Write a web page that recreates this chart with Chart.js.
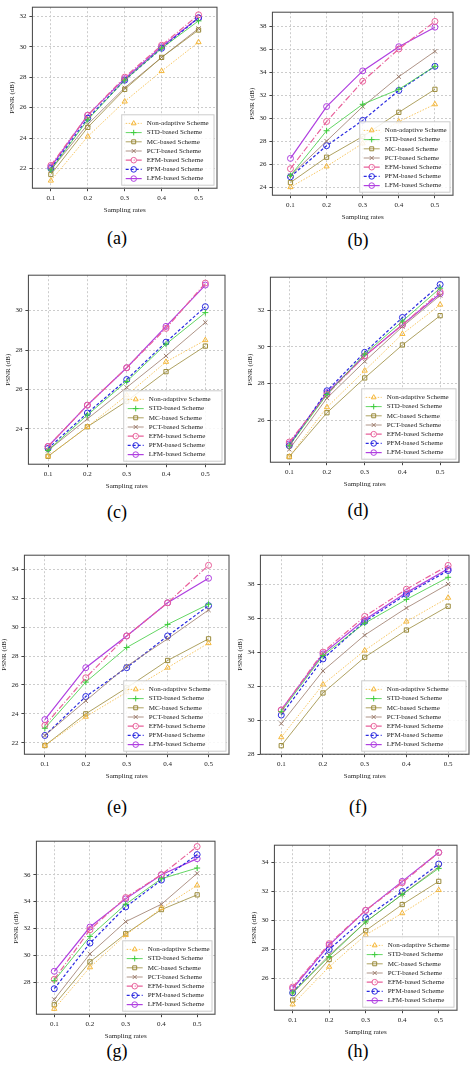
<!DOCTYPE html>
<html><head><meta charset="utf-8">
<script src="https://cdn.jsdelivr.net/npm/chart.js@4"></script>
<style>
body{margin:0;background:#fff;width:474px;height:1076px;position:relative;overflow:hidden}
.box{position:absolute}
.lab{position:absolute;font:18px "Liberation Serif",serif;transform:translateX(-50%)}
</style></head><body>
<script>
// Sampling rates on x axis
const rates = ['0.1', '0.2', '0.3', '0.4', '0.5'];
const schemes = ['Non-adaptive Scheme', 'STD-based Scheme', 'MC-based Scheme', 'PCT-based Scheme', 'EFM-based Scheme', 'PFM-based Scheme', 'LFM-based Scheme'];

// PSNR values per panel, one row per scheme (same order as schemes)
const psnrA = [[21.2,24.1,26.4,28.4,30.3],[21.9,25.2,27.8,29.9,31.7],[21.6,24.7,27.2,29.3,31.1],[21.9,24.9,27.3,29.3,31.2],[22.2,25.5,28.0,30.1,32.1],[22.0,25.3,27.8,29.9,31.9],[22.1,25.5,27.9,30.0,31.9]];
const psnrB = [[24.0,25.8,27.8,29.7,31.2],[25.0,28.9,31.2,32.5,34.5],[24.4,26.6,28.4,30.5,32.5],[25.0,28.0,31.0,33.6,35.8],[25.6,29.7,33.2,36.0,38.4],[24.9,27.6,29.8,32.4,34.5],[26.5,31.0,34.1,36.2,37.9]];
const psnrC = [[22.6,24.1,25.7,27.4,28.5],[22.9,24.7,26.4,28.3,29.9],[22.6,24.1,25.4,26.9,28.2],[22.9,24.5,26.1,27.7,29.4],[23.1,25.2,27.1,29.1,31.4],[23.0,24.8,26.5,28.4,30.2],[23.1,25.2,27.1,29.2,31.3]];
const psnrD = [[24.0,26.7,28.7,30.7,32.3],[24.6,27.4,29.6,31.4,33.2],[24.0,26.4,28.3,30.1,31.7],[24.4,27.2,29.2,31.1,32.8],[24.8,27.4,29.5,31.2,33.0],[24.6,27.6,29.7,31.6,33.4],[24.7,27.5,29.5,31.2,32.9]];
const psnrE = [[21.8,23.8,25.5,27.2,28.9],[23.0,26.2,28.6,30.2,31.6],[21.8,24.0,25.8,27.7,29.2],[22.5,24.9,27.3,29.2,31.2],[23.2,26.5,29.4,31.7,34.3],[22.5,25.2,27.2,29.4,31.5],[23.6,27.2,29.4,31.7,33.4]];
const psnrF = [[29.0,32.1,34.1,35.8,37.2],[30.5,33.8,35.7,37.1,38.4],[28.5,31.6,33.7,35.3,36.7],[29.8,32.9,35.0,36.6,38.0],[30.6,34.0,36.1,37.7,39.1],[30.3,33.6,35.8,37.4,38.8],[30.6,33.9,35.9,37.5,38.9]];
const psnrG = [[26.0,29.1,31.5,33.5,35.2],[28.1,31.4,33.8,35.7,36.5],[26.3,29.5,31.6,33.4,34.5],[26.7,30.1,32.5,33.8,36.1],[28.2,31.9,34.3,36.0,38.1],[27.5,30.9,33.6,35.6,37.5],[28.8,32.1,34.2,36.0,37.2]];
const psnrH = [[24.2,26.8,29.0,30.5,32.1],[25.0,27.5,29.9,31.8,33.6],[24.5,27.3,29.3,31.1,32.7],[25.0,27.6,29.9,31.8,33.7],[25.4,28.4,30.7,32.6,34.7],[25.0,28.0,30.2,32.0,33.9],[25.3,28.3,30.7,32.7,34.7]];

const styles = [
  {c:'#f5b73a', p:'triangle', d:[1.5,1.5]},
  {c:'#3ccc3c', p:'cross', d:[]},
  {c:'#9a8a3a', p:'rect', d:[]},
  {c:'#9a7a6a', p:'crossRot', d:[]},
  {c:'#e8609a', p:'circle', d:[6,2,1,2]},
  {c:'#2a2ae0', p:'circle', d:[3,2]},
  {c:'#b040e0', p:'circle', d:[]}
];

const panels = [
  {id:'a', data:psnrA, min:20.7, max:32.6, box:[8,0,214,214]},
  {id:'b', data:psnrB, min:23.3, max:39.2, box:[248,5,210,216]},
  {id:'c', data:psnrC, min:22.2, max:31.8, box:[4,268,226,222]},
  {id:'d', data:psnrD, min:23.7, max:33.8, box:[246,270,218,218]},
  {id:'e', data:psnrE, min:21.2, max:35.0, box:[0,548,234,232]},
  {id:'f', data:psnrF, min:28.0, max:39.7, box:[236,548,238,232]},
  {id:'g', data:psnrG, min:25.6, max:38.5, box:[12,834,208,206]},
  {id:'h', data:psnrH, min:23.8, max:35.2, box:[250,838,212,198]}
];
const labelPos = {a:[117,228],b:[358,230],c:[117,502],d:[358,500],e:[117,797],f:[358,797],g:[117,1041],h:[358,1041]};

const frameLegend = {
  id:'frameLegend',
  afterDraw(chart){
    const {ctx, chartArea:a} = chart;
    ctx.save();
    ctx.strokeStyle = '#444'; ctx.lineWidth = 1;
    ctx.strokeRect(a.left, a.top, a.right-a.left, a.bottom-a.top);
    const rowH = 9.2, w = (a.right-a.left)*0.5, h = rowH*7+6;
    const x0 = a.right-w-3, y0 = a.bottom-h-3;
    ctx.fillStyle = 'rgba(255,255,255,0.85)';
    ctx.strokeStyle = '#ccc';
    ctx.fillRect(x0,y0,w,h); ctx.strokeRect(x0,y0,w,h);
    ctx.font = '7px "Liberation Serif", serif';
    ctx.textBaseline = 'middle';
    chart.data.datasets.forEach((ds,i)=>{
      const y = y0+4+rowH*(i+0.5);
      ctx.strokeStyle = ds.borderColor; ctx.lineWidth = ds.borderWidth;
      ctx.setLineDash(ds.borderDash);
      ctx.beginPath(); ctx.moveTo(x0+4,y); ctx.lineTo(x0+20,y); ctx.stroke();
      ctx.setLineDash([]);
      ctx.lineWidth = 1;
      ctx.fillStyle = 'rgba(0,0,0,0)';
      Chart.helpers.drawPoint(ctx,{pointStyle:ds.pointStyle,radius:2.8,borderWidth:1,rotation:0},x0+12,y);
      ctx.fillStyle = '#222';
      ctx.fillText(ds.label, x0+25, y);
    });
    ctx.restore();
  }
};

panels.forEach(p=>{
  const div = document.createElement('div');
  div.className='box';
  div.style.cssText = `left:${p.box[0]}px;top:${p.box[1]}px;width:${p.box[2]}px;height:${p.box[3]}px`;
  const cv = document.createElement('canvas');
  div.appendChild(cv); document.body.appendChild(div);
  const lab = document.createElement('div');
  lab.className='lab'; lab.textContent = '('+p.id+')';
  lab.style.left = labelPos[p.id][0]+'px'; lab.style.top = labelPos[p.id][1]+'px';
  document.body.appendChild(lab);
  new Chart(cv,{
    type:'line',
    data:{labels:rates, datasets:schemes.map((s,i)=>({
      label:s, data:p.data[i], borderColor:styles[i].c, pointBorderColor:styles[i].c,
      backgroundColor:'transparent', pointBackgroundColor:'transparent',
      pointStyle:styles[i].p, pointRadius:3, pointBorderWidth:1,
      borderWidth:i>=4?1.2:0.8, borderDash:styles[i].d, tension:0
    }))},
    options:{
      responsive:true, maintainAspectRatio:false, animation:false,
      layout:{padding:{right:4,top:2}},
      plugins:{legend:{display:false}, tooltip:{enabled:false}},
      scales:{
        x:{offset:true, grid:{offset:false, color:'#ccc', tickColor:'#444', tickLength:3}, border:{dash:[2,2]},
           ticks:{color:'#222', font:{family:'Liberation Serif', size:7}},
           title:{display:true, text:'Sampling rates', color:'#222', font:{family:'Liberation Serif', size:7}, padding:0}},
        y:{min:p.min, max:p.max, afterBuildTicks(ax){ax.ticks = ax.ticks.filter(t=>t.value%2===0);},
           ticks:{stepSize:1, color:'#222', font:{family:'Liberation Serif', size:7}},
           grid:{color:'#ccc', tickColor:'#444', tickLength:3}, border:{dash:[2,2]},
           title:{display:true, text:'PSNR (dB)', color:'#222', font:{family:'Liberation Serif', size:7}, padding:0}}
      }
    },
    plugins:[frameLegend]
  });
});
</script>
</body></html>
